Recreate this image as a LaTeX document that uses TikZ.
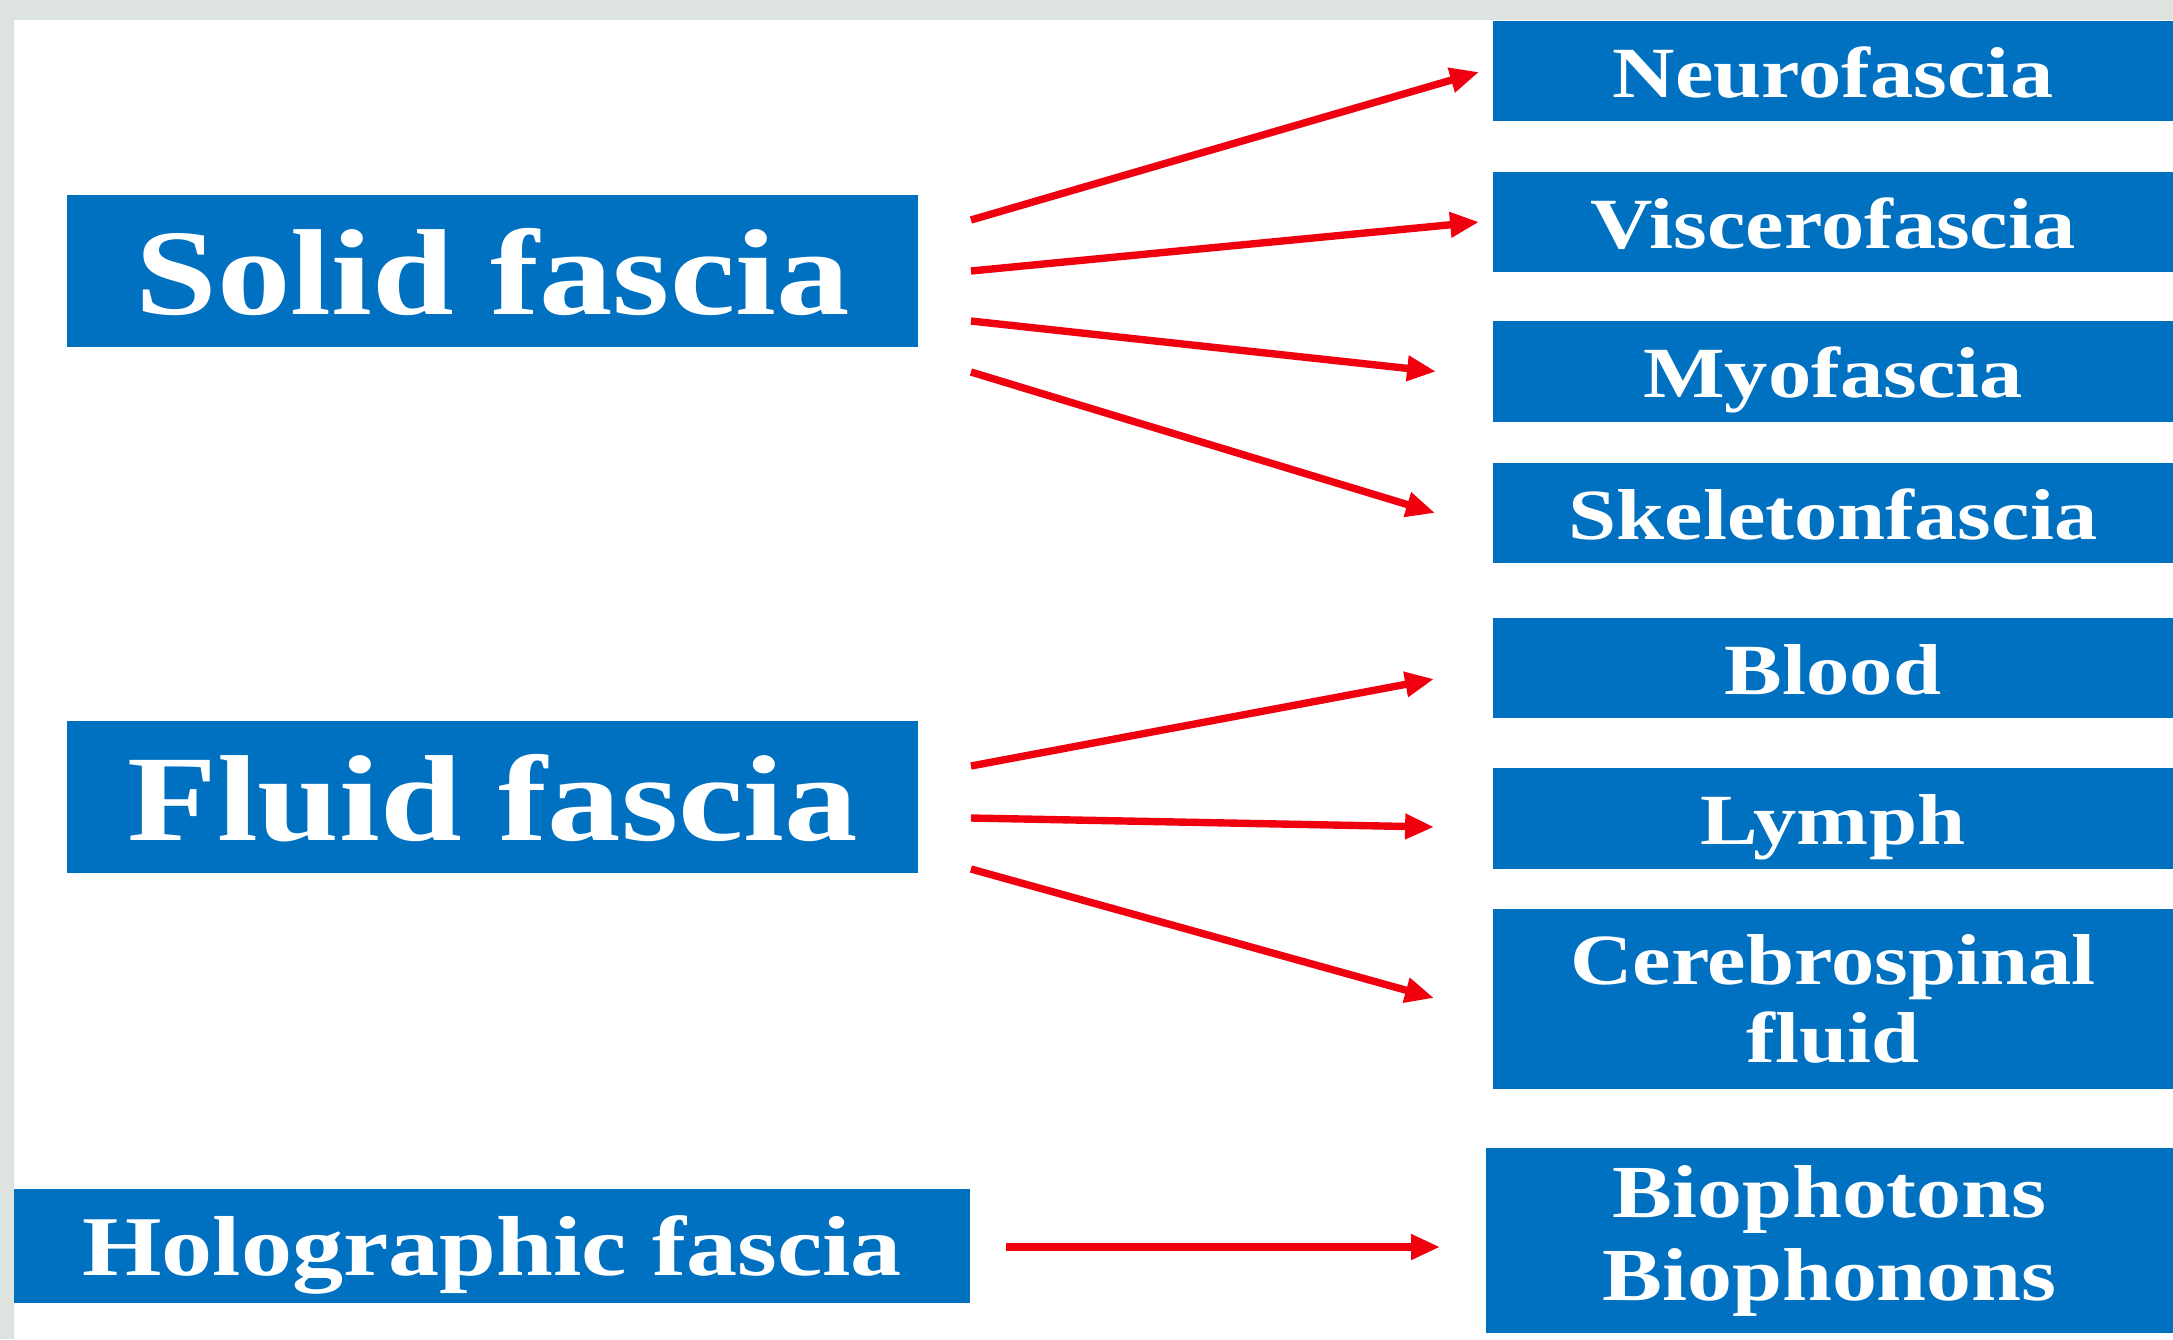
\documentclass[tikz,border=0pt]{standalone}
\usepackage{fontspec}
\newfontfamily\boxfont{Liberation Serif}[FakeStretch=1.2]
\usetikzlibrary{arrows.meta}
\definecolor{boxblue}{HTML}{0070C0}
\definecolor{arrred}{HTML}{F0000F}
\definecolor{bggrey}{HTML}{DDE4E0}
\begin{document}
\begin{tikzpicture}[x=0.01cm,y=-0.01cm,
  box/.style={fill=boxblue, text=white, inner sep=0pt, align=center},
  bigtext/.style={font=\boxfont\bfseries\fontsize{34.8}{40}\selectfont, text height=25pt, text depth=0pt},
  midtext/.style={font=\boxfont\bfseries\fontsize{24.2}{28}\selectfont, text height=17pt, text depth=0pt},
  smalltext/.style={font=\boxfont\bfseries\fontsize{20.5}{22.2}\selectfont},
  oneline/.style={text height=15pt, text depth=0pt},
  biotext/.style={font=\boxfont\bfseries\fontsize{21.3}{23.6}\selectfont},
  leftbox/.style={box, minimum width=8.51cm, minimum height=1.52cm},
  rightbox/.style={box, smalltext, minimum width=6.80cm, minimum height=1.00cm},
  arr/.style={draw=arrred, line width=2.1pt, -{Triangle[length=0.29cm,width=0.24cm]}}
]
\useasboundingbox (0,0) rectangle (2173,1339);
\fill[bggrey] (0,0) rectangle (2173,1339);
\fill[white] (14,20) rectangle (2173,1339);

\node[leftbox, bigtext] (solid) at (492.5,271) {Solid fascia};
\node[leftbox, bigtext] (fluid) at (492.5,797) {Fluid fascia};
\node[box, midtext, minimum width=9.56cm, minimum height=1.14cm] (holo) at (492,1246) {Holographic fascia};

\node[rightbox, oneline] (neuro) at (1833,71) {Neurofascia};
\node[rightbox, oneline] (visc) at (1833,222) {Viscerofascia};
\node[rightbox, oneline] (myo) at (1833,371.5) {Myofascia};
\node[rightbox, oneline] (skel) at (1833,513) {Skeletonfascia};
\node[rightbox, oneline] (blood) at (1833,668) {Blood};
\node[rightbox, oneline] (lymph) at (1833,818.5) {Lymph};
\node[rightbox, minimum height=1.80cm] (cere) at (1833,999) {Cerebrospinal\\fluid};
\node[box, biotext, minimum width=6.87cm, minimum height=1.85cm] (bio) at (1829.5,1240.5) {Biophotons\\Biophonons};

\draw[arr] ([shift={(52,-51)}]solid.east) -- ([shift={(-13,1)}]neuro.west);
\draw[arr] ([shift={(52,0)}]solid.east) -- ([shift={(-13,0)}]visc.west);
\draw[arr] ([shift={(52,50)}]solid.east) -- ([shift={(-56,0)}]myo.west);
\draw[arr] ([shift={(52,101)}]solid.east) -- ([shift={(-57,0)}]skel.west);

\draw[arr] ([shift={(52,-31)}]fluid.east) -- ([shift={(-58,11)}]blood.west);
\draw[arr] ([shift={(52,21)}]fluid.east) -- ([shift={(-58,8.5)}]lymph.west);
\draw[arr] ([shift={(52,72)}]fluid.east) -- ([shift={(-58,-1)}]cere.west);

\draw[arr] ([shift={(35,1)}]holo.east) -- ([shift={(-45,6.5)}]bio.west);
\end{tikzpicture}
\end{document}
